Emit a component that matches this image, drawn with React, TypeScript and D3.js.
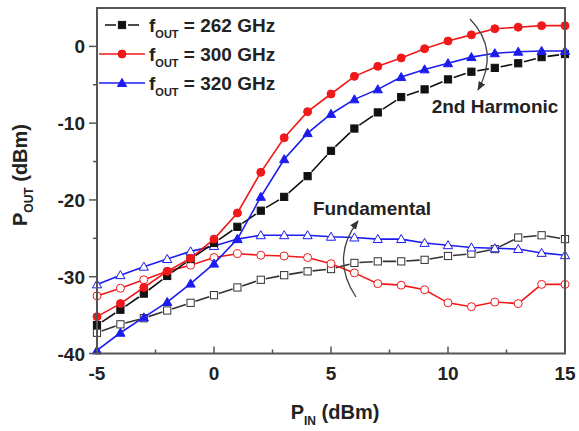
import React from "react";
import * as d3 from "d3";

// P_IN sweep (dBm)
const pin = [-5, -4, -3, -2, -1, 0, 1, 2, 3, 4, 5, 6, 7, 8, 9, 10, 11, 12, 13, 14, 15];

// 2nd harmonic output (dBm)
const h262 = [-36.3, -34.3, -32.2, -29.9, -27.7, -25.6, -23.5, -21.4, -19.6, -16.9, -13.6, -10.7, -8.6, -6.6, -5.6, -4.3, -3.3, -2.8, -2.2, -1.4, -1.0];
const h300 = [-35.2, -33.5, -31.4, -29.3, -27.6, -25.1, -21.7, -16.4, -11.9, -8.5, -6.2, -3.9, -2.6, -1.5, -0.3, 0.7, 1.5, 2.3, 2.5, 2.7, 2.7];
const h320 = [-39.6, -37.3, -35.3, -33.3, -30.9, -28.3, -25.1, -19.6, -14.7, -11.3, -8.8, -6.9, -5.6, -4.0, -3.0, -2.2, -1.4, -0.9, -0.7, -0.6, -0.6];

// fundamental output (dBm)
const f262 = [-37.3, -36.2, -35.4, -34.4, -33.4, -32.4, -31.4, -30.4, -29.8, -29.3, -29.0, -28.2, -28.0, -28.0, -27.8, -27.3, -27.0, -26.4, -24.9, -24.6, -25.1];
const f300 = [-32.5, -31.5, -30.4, -29.3, -28.5, -27.5, -27.0, -27.2, -27.3, -27.5, -28.3, -29.5, -30.9, -31.1, -31.7, -33.4, -33.9, -33.3, -33.5, -31.0, -31.0];
const f320 = [-31.0, -29.8, -28.7, -27.7, -26.7, -26.0, -25.1, -24.6, -24.6, -24.6, -24.8, -24.9, -25.1, -25.1, -25.6, -25.9, -26.2, -26.3, -26.4, -26.9, -27.2];

const xTicks = [-5, 0, 5, 10, 15];
const yTicks = [-40, -30, -20, -10, 0];
const legendLabels = ["262 GHz", "300 GHz", "320 GHz"];

const W = 579;
const H = 431;
const font = "'Liberation Sans', Arial, sans-serif";
const ink = "#222";

const x = d3.scaleLinear().domain([-5, 15]).range([97, 565]);
const y = d3.scaleLinear().domain([-40, 5]).range([353.5, 8]);

type Shape = "square" | "circle" | "triangle";

const Marker = ({ cx, cy, shape, color, open }: { cx: number; cy: number; shape: Shape; color: string; open: boolean }) => {
  const fill = open ? "#fff" : color;
  const stroke = color;
  const sw = open ? 1 : 1;
  if (shape === "square") {
    return <rect x={cx - 3.6} y={cy - 3.6} width={7.2} height={7.2} fill={fill} stroke={stroke} strokeWidth={sw} />;
  }
  if (shape === "circle") {
    return <circle cx={cx} cy={cy} r={4} fill={fill} stroke={stroke} strokeWidth={sw} />;
  }
  const s = 4.6;
  return (
    <path
      d={`M${cx},${cy - s} L${cx + s},${cy + s * 0.75} L${cx - s},${cy + s * 0.75} Z`}
      fill={fill}
      stroke={stroke}
      strokeWidth={sw}
    />
  );
};

// line drawn as separate segments that stop short of each symbol (Origin "gap to symbol")
const gappedPath = (pts: [number, number][], gap: number) => {
  let d = "";
  for (let i = 0; i < pts.length - 1; i++) {
    const [x0, y0] = pts[i];
    const [x1, y1] = pts[i + 1];
    const len = Math.hypot(x1 - x0, y1 - y0);
    if (len <= gap * 2) continue;
    const ux = (x1 - x0) / len;
    const uy = (y1 - y0) / len;
    d += `M${x0 + ux * gap},${y0 + uy * gap}L${x1 - ux * gap},${y1 - uy * gap}`;
  }
  return d;
};

const line = d3.line<[number, number]>().x((d) => d[0]).y((d) => d[1]);

const Series = ({ values, shape, color, open, gap }: { values: number[]; shape: Shape; color: string; open: boolean; gap: number }) => {
  const pts: [number, number][] = values.map((v, i) => [x(pin[i]), y(v)]);
  const d = gap > 0 ? gappedPath(pts, gap) : line(pts) || "";
  return (
    <g>
      <path d={d} fill="none" stroke={color} strokeWidth={1.6} />
      {pts.map((p, i) => (
        <Marker key={i} cx={p[0]} cy={p[1]} shape={shape} color={color} open={open} />
      ))}
    </g>
  );
};

export default function App() {
  const red = "#f01818";
  const blue = "#1c1cf0";
  const black = "#111";
  const minorX = [-2.5, 2.5, 7.5, 12.5];
  const minorY = [-35, -25, -15, -5];
  const legend: { shape: Shape; color: string; gap: number }[] = [
    { shape: "square", color: black, gap: 6 },
    { shape: "circle", color: red, gap: 0 },
    { shape: "triangle", color: blue, gap: 0 },
  ];

  return (
    <svg width={W} height={H} style={{ position: "absolute", left: 0, top: 0, background: "#fff" }} fontFamily={font}>
      <defs>
        <marker id="ah" viewBox="0 0 10 10" refX="9" refY="5" markerWidth="7" markerHeight="7" orient="auto">
          <path d="M0,1 L10,5 L0,9 Z" fill="#333" />
        </marker>
      </defs>

      {/* fundamental */}
      <Series values={f262} shape="square" color="#333" open gap={5} />
      <Series values={f300} shape="circle" color={red} open gap={0} />
      <Series values={f320} shape="triangle" color={blue} open gap={0} />

      {/* 2nd harmonic */}
      <Series values={h262} shape="square" color={black} open={false} gap={6} />
      <Series values={h320} shape="triangle" color={blue} open={false} gap={0} />
      <Series values={h300} shape="circle" color={red} open={false} gap={0} />

      {/* frame */}
      <rect x={x(-5)} y={y(5)} width={x(15) - x(-5)} height={y(-40) - y(5)} fill="none" stroke="#555" strokeWidth={2} />

      {/* x ticks */}
      {xTicks.map((t) => (
        <g key={t}>
          <line x1={x(t)} x2={x(t)} y1={y(-40)} y2={y(-40) - 7} stroke="#555" strokeWidth={1.5} />
          <text x={x(t)} y={y(-40) + 26} textAnchor="middle" fontSize={19} fontWeight="bold" fill={ink}>
            {t}
          </text>
        </g>
      ))}
      {minorX.map((t) => (
        <line key={t} x1={x(t)} x2={x(t)} y1={y(-40)} y2={y(-40) - 4} stroke="#555" strokeWidth={1.5} />
      ))}

      {/* y ticks */}
      {yTicks.map((t) => (
        <g key={t}>
          <line x1={x(-5) - 8} x2={x(-5)} y1={y(t)} y2={y(t)} stroke="#555" strokeWidth={1.5} />
          <text x={x(-5) - 12} y={y(t) + 7} textAnchor="end" fontSize={19} fontWeight="bold" fill={ink}>
            {t}
          </text>
        </g>
      ))}
      {minorY.map((t) => (
        <line key={t} x1={x(-5) - 4} x2={x(-5)} y1={y(t)} y2={y(t)} stroke="#555" strokeWidth={1.5} />
      ))}

      {/* axis titles */}
      <text x={335} y={419} textAnchor="middle" fontSize={20} fontWeight="bold" fill={ink}>
        P<tspan fontSize={12} dy={6}>IN</tspan>
        <tspan dy={-6}> (dBm)</tspan>
      </text>
      <text transform={`translate(27,${175}) rotate(-90)`} textAnchor="middle" fontSize={20} fontWeight="bold" fill={ink}>
        P<tspan fontSize={12} dy={6}>OUT</tspan>
        <tspan dy={-6}> (dBm)</tspan>
      </text>

      {/* legend */}
      {legend.map((l, i) => {
        const ly = 25 + i * 29;
        const pts: [number, number][] = [
          [99, ly],
          [122, ly],
          [145, ly],
        ];
        return (
          <g key={i}>
            <path d={l.gap > 0 ? gappedPath(pts, l.gap) : line(pts) || ""} fill="none" stroke={l.color} strokeWidth={1.6} />
            <Marker cx={122} cy={ly} shape={l.shape} color={l.color} open={false} />
            <text x={149} y={ly + 7} fontSize={19} fontWeight="bold" fill={ink}>
              f<tspan fontSize={11} dy={6}>OUT</tspan>
              <tspan dy={-6}>{` = ${legendLabels[i]}`}</tspan>
            </text>
          </g>
        );
      })}

      {/* annotations */}
      <path d="M470,19 Q500,50 478,90" fill="none" stroke="#444" strokeWidth={1.3} markerEnd="url(#ah)" />
      <text x={495} y={113} textAnchor="middle" fontSize={19} fontWeight="bold" fill={ink}>
        2nd Harmonic
      </text>
      <path d="M356,297 Q330,258 358,221" fill="none" stroke="#444" strokeWidth={1.3} markerEnd="url(#ah)" />
      <text x={372} y={215} textAnchor="middle" fontSize={19} fontWeight="bold" fill={ink}>
        Fundamental
      </text>
    </svg>
  );
}
